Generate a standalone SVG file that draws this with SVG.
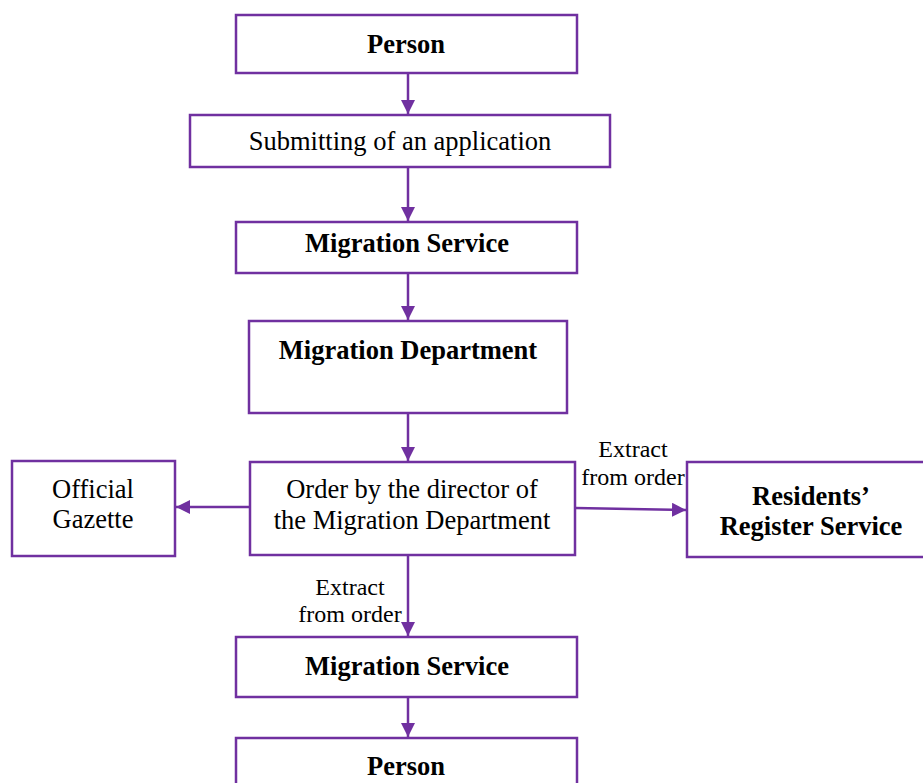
<svg xmlns="http://www.w3.org/2000/svg" width="923" height="783" viewBox="0 0 923 783">
<defs>
<marker id="ah" markerWidth="14" markerHeight="14" viewBox="0 0 14 14" refX="14" refY="7" orient="auto" markerUnits="userSpaceOnUse">
<path d="M0,0 L14,7 L0,14 Z" fill="#7030A0"/>
</marker>
<style>
.box{fill:#fff;stroke:#7030A0;stroke-width:2.5}
.c{stroke:#7030A0;stroke-width:2.5;fill:none;marker-end:url(#ah)}
text{font-family:"Liberation Serif","Times New Roman",serif;fill:#000;text-anchor:middle}
.b{font-weight:bold;font-size:26.5px}
.r{font-size:26.5px}
.s{font-size:24px}
</style>
</defs>
<rect width="923" height="783" fill="#fff"/>
<g id="connectors">
<line class="c" x1="408" y1="73" x2="408" y2="114"/>
<line class="c" x1="408" y1="167" x2="408" y2="221"/>
<line class="c" x1="408" y1="273" x2="408" y2="320"/>
<line class="c" x1="408" y1="413" x2="408" y2="461"/>
<line class="c" x1="250" y1="507" x2="176" y2="507"/>
<line class="c" x1="575" y1="508" x2="686" y2="510"/>
<line class="c" x1="408" y1="555" x2="408" y2="636"/>
<line class="c" x1="408" y1="697" x2="408" y2="737"/>
<text class="s" x="633" y="457">Extract</text>
<text class="s" x="633" y="485">from order</text>
<text class="s" x="350" y="595">Extract</text>
<text class="s" x="350" y="622">from order</text>
</g>
<g id="person1"><rect class="box" x="236" y="15" width="341" height="58"/><text class="b" x="406" y="53">Person</text></g>
<g id="submit"><rect class="box" x="190" y="115" width="420" height="52"/><text class="r" x="400" y="150">Submitting of an application</text></g>
<g id="migservice1"><rect class="box" x="236" y="222" width="341" height="51"/><text class="b" x="407" y="252">Migration Service</text></g>
<g id="migdept"><rect class="box" x="249" y="321" width="318" height="92"/><text class="b" x="408" y="359">Migration Department</text></g>
<g id="order"><rect class="box" x="250" y="462" width="325" height="93"/><text class="r" x="412" y="498">Order by the director of</text><text class="r" x="412" y="529">the Migration Department</text></g>
<g id="gazette"><rect class="box" x="12" y="461" width="163" height="95"/><text class="r" x="93" y="498">Official</text><text class="r" x="93" y="528">Gazette</text></g>
<g id="residents"><rect class="box" x="687" y="462" width="250" height="95"/><text class="b" x="811" y="505">Residents’</text><text class="b" x="811" y="535">Register Service</text></g>
<g id="migservice2"><rect class="box" x="236" y="637" width="341" height="60"/><text class="b" x="407" y="675">Migration Service</text></g>
<g id="person2"><rect class="box" x="236" y="738" width="341" height="60"/><text class="b" x="406" y="775">Person</text></g>
</svg>
